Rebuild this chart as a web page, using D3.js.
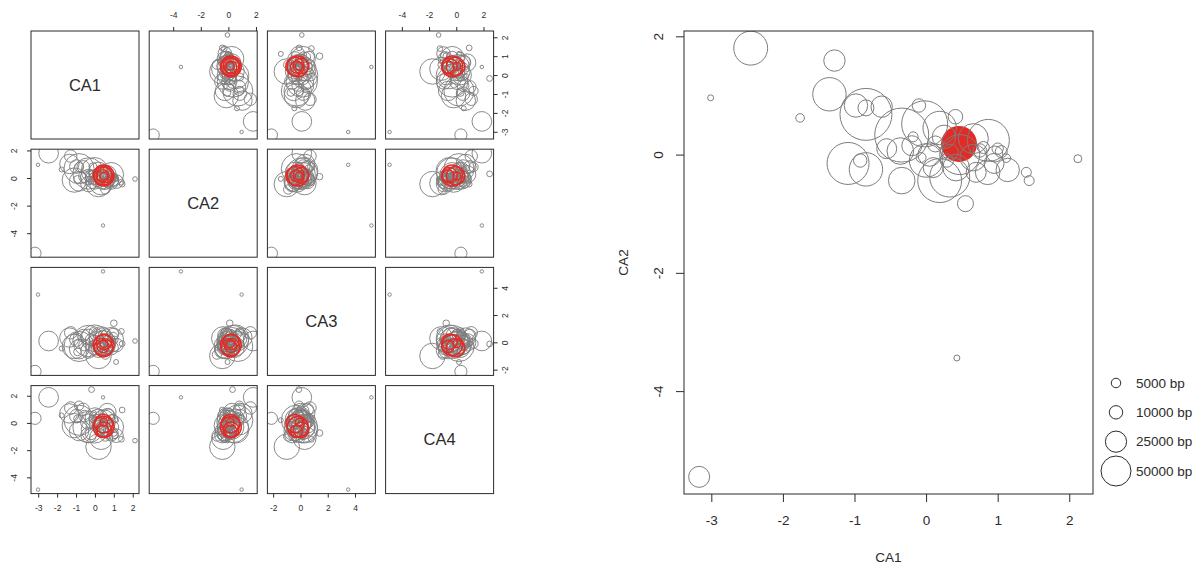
<!DOCTYPE html>
<html>
<head>
<meta charset="utf-8">
<script src="https://cdn.jsdelivr.net/npm/d3@7"></script>
<style>
  body { margin: 0; background: #fff; }
  svg { display: block; font-family: "Liberation Sans", Arial, Helvetica, sans-serif; }
</style>
</head>
<body>
<svg id="chart" width="1204" height="570"></svg>
<script>
// Correspondence-analysis coordinates per sample, with assembly size in bp
const dims = ["CA1", "CA2", "CA3", "CA4"];
const ca1 = [-3.17, -3.01, 0.43, 2.12, -0.18, 1.00, -2.45, 0.19, -1.28, -1.76,
             -1.35, -0.98, -0.84, -0.62, -0.84, -0.34, -0.10, -0.02, 0.41, 0.87,
             -1.09, -0.92, -0.84, -0.34, 0.55, 1.40, 1.44, 1.14, 1.12, 0.86,
             -0.36, 0.00, 0.05, 0.47, 0.66, 0.42, 0.70, 0.10, 0.29, -0.07,
             0.34, 0.13, 0.96, 0.75, 0.66, 0.19, 0.33, -0.55, 0.95, -0.20,
             0.25, 0.80, 1.05,
             0.46, 0.45, 0.48, 0.43, 0.47];
const ca2 = [-5.45, 0.96, -3.44, -0.07, 0.30, 0.10, 1.80, -0.44, 1.59, 0.62,
             1.02, 0.83, 0.79, 0.81, 0.68, 0.33, 0.83, 0.52, 0.64, 0.24,
             -0.15, -0.10, -0.25, -0.44, -0.83, -0.30, -0.44, -0.26, -0.06, -0.30,
             0.06, -0.10, 0.00, 0.00, -0.05, -0.22, -0.30, -0.22, -0.10, -0.05,
             0.04, 0.18, 0.01, 0.07, 0.27, 0.45, -0.38, 0.10, -0.15, 0.15,
             0.30, 0.12, 0.05,
             0.18, 0.16, 0.20, 0.17, 0.14];
const ca3 = [-2.13, 3.50, 5.20, 0.10, -0.12, 1.40, 0.10, -1.00, 0.70, -0.45,
             0.35, 0.20, -0.10, 0.50, -0.30, 0.10, 0.80, 0.30, 0.60, 0.20,
             -0.30, -0.70, -0.50, -0.60, -0.90, 0.80, -0.10, -0.20, -1.44, -0.40,
             0.40, -0.20, 0.30, 0.00, -0.30, 0.50, 0.10, -0.50, 0.20, -0.30,
             -0.60, 0.60, 0.40, -0.10, 0.00, -0.40, 0.30, -0.20, 0.60, 0.20,
             -0.20, -0.60, 0.20,
             -0.20, -0.40, 0.05, -0.30, -0.10];
const ca4 = [0.34, -4.90, 1.88, -1.30, 2.45, -0.74, 1.88, -1.75, 1.10, 0.55,
             0.70, 0.50, 1.27, 1.00, 0.20, -0.30, 0.30, -0.50, 0.40, -0.30,
             -0.20, 0.30, -0.60, -0.90, -1.00, -1.20, 0.95, -0.94, 0.20, -0.80,
             0.10, 0.40, -0.10, 0.10, 0.50, -0.40, 0.60, 0.20, -0.70, 0.70,
             -0.20, 0.00, 0.30, -0.50, 0.80, 0.30, -1.10, 0.50, -0.30, -0.80,
             -0.30, 0.00, -0.90,
             -0.30, -0.05, -0.50, -0.60, 0.05];
const bp  = [24500, 2000, 2000, 3500, 5500, 7200, 64000, 107000, 25400, 4100,
             62000, 30400, 14200, 25400, 150000, 162000, 10000, 117500, 11800, 98000,
             98000, 10000, 62000, 39300, 14200, 5500, 5500, 30400, 4100, 33600,
             39300, 62000, 30400, 88900, 39300, 39300, 22200, 22200, 10000, 5500,
             14200, 14200, 14200, 10000, 50000, 62000, 88900, 22200, 22200, 22200,
             30400, 8000, 8000,
             72000, 56000, 40000, 24000, 10000];
// 1 marks the focal samples (drawn in red)
const focal = [0, 0, 0, 0, 0, 0, 0, 0, 0, 0,
               0, 0, 0, 0, 0, 0, 0, 0, 0, 0,
               0, 0, 0, 0, 0, 0, 0, 0, 0, 0,
               0, 0, 0, 0, 0, 0, 0, 0, 0, 0,
               0, 0, 0, 0, 0, 0, 0, 0, 0, 0,
               0, 0, 0,
               1, 1, 1, 1, 1];

const ca1Ticks = [-3, -2, -1, 0, 1, 2];
const ca2Ticks = [-4, -2, 0, 2];
const ca3Ticks = [-2, 0, 2, 4];
const ca4Ticks = [-4, -2, 0, 2];
const legendBp = [5000, 10000, 25000, 50000];

const columns = [ca1, ca2, ca3, ca4];
const tickSets = [ca1Ticks, ca2Ticks, ca3Ticks, ca4Ticks];

const GRAY = "#7d7d7d";
const RED = "#e32b25";
const INK = "#2b2b2b";
const fmt = d => String(d);   // plain hyphen-minus, no decimals

const svg = d3.select("#chart");

// data range with 4% padding on each side
function padded(arr) {
  const [lo, hi] = d3.extent(arr);
  const p = (hi - lo) * 0.04;
  return [lo - p, hi + p];
}

const idx = d3.range(ca1.length);
const grayIdx = idx.filter(i => !focal[i]);
const redIdx = idx.filter(i => focal[i]);

// rotated tick labels for vertical axes (reading bottom to top)
function rotateLabels(g, dist, side) {
  g.selectAll(".tick text")
    .attr("x", null).attr("y", null)
    .attr("dy", "0.35em")
    .attr("text-anchor", "middle")
    .attr("transform", `translate(${side * dist},0) rotate(-90)`);
}

function styleAxis(g, fontSize) {
  g.select(".domain").remove();
  g.selectAll(".tick line").attr("stroke", INK);
  g.selectAll(".tick text").attr("fill", INK).style("font-size", fontSize + "px");
  g.attr("font-family", null);
}

// ---------- scatterplot matrix ----------
const M = { left: 31, top: 31, size: 108, step: 118.2 };
const rPair = d3.scaleSqrt().domain([0, 50000]).range([0, 8.7]);
const defs = svg.append("defs");

for (let r = 0; r < 4; r++) {
  for (let c = 0; c < 4; c++) {
    const x0 = M.left + c * M.step;
    const y0 = M.top + r * M.step;
    const panel = svg.append("g");

    if (r === c) {
      panel.append("text")
        .attr("x", x0 + M.size / 2).attr("y", y0 + M.size / 2)
        .attr("dy", "0.35em").attr("text-anchor", "middle")
        .attr("fill", INK).style("font-size", "16.5px")
        .text(dims[r]);
    } else {
      const xs = d3.scaleLinear().domain(padded(columns[c])).range([x0, x0 + M.size]);
      const ys = d3.scaleLinear().domain(padded(columns[r])).range([y0 + M.size, y0]);
      const clipId = `clip-${r}-${c}`;
      defs.append("clipPath").attr("id", clipId)
        .append("rect").attr("x", x0).attr("y", y0).attr("width", M.size).attr("height", M.size);
      const pts = panel.append("g").attr("clip-path", `url(#${clipId})`);
      pts.append("g").selectAll("circle").data(grayIdx).join("circle")
        .attr("cx", i => xs(columns[c][i]))
        .attr("cy", i => ys(columns[r][i]))
        .attr("r", i => rPair(bp[i]))
        .attr("fill", "none")
        .attr("stroke", GRAY)
        .attr("stroke-width", 0.9);
      pts.append("g").selectAll("circle").data(redIdx).join("circle")
        .attr("cx", i => xs(columns[c][i]))
        .attr("cy", i => ys(columns[r][i]))
        .attr("r", i => rPair(bp[i]))
        .attr("fill", "none")
        .attr("stroke", RED)
        .attr("stroke-width", 1.5);

      // outer axes, alternating sides as in a pairs plot
      if (r === 0 && c % 2 === 1) {
        const g = panel.append("g").attr("transform", `translate(0,${y0})`)
          .call(d3.axisTop(xs).tickValues(tickSets[c]).tickFormat(fmt).tickSize(4).tickPadding(9));
        styleAxis(g, 8.5);
      }
      if (r === 3 && c % 2 === 0) {
        const g = panel.append("g").attr("transform", `translate(0,${y0 + M.size})`)
          .call(d3.axisBottom(xs).tickValues(tickSets[c]).tickFormat(fmt).tickSize(4).tickPadding(7.5));
        styleAxis(g, 8.5);
      }
      if (c === 0 && r % 2 === 1) {
        const g = panel.append("g").attr("transform", `translate(${x0},0)`)
          .call(d3.axisLeft(ys).tickValues(tickSets[r]).tickFormat(fmt).tickSize(4));
        styleAxis(g, 8.5);
        rotateLabels(g, 16.5, -1);
      }
      if (c === 3 && r % 2 === 0) {
        const g = panel.append("g").attr("transform", `translate(${x0 + M.size},0)`)
          .call(d3.axisRight(ys).tickValues(tickSets[r]).tickFormat(fmt).tickSize(4));
        styleAxis(g, 8.5);
        rotateLabels(g, 11, 1);
      }
    }
    panel.append("rect")
      .attr("x", x0).attr("y", y0).attr("width", M.size).attr("height", M.size)
      .attr("fill", "none").attr("stroke", INK).attr("stroke-width", 1);
  }
}

// ---------- CA1 vs CA2 bubble plot ----------
const B = { left: 684, right: 1093, top: 31, bottom: 494 };
const x = d3.scaleLinear().domain(padded(ca1)).range([B.left, B.right]);
const y = d3.scaleLinear().domain(padded(ca2)).range([B.bottom, B.top]);
const rBig = d3.scaleSqrt().domain([0, 50000]).range([0, 15]);

defs.append("clipPath").attr("id", "clip-main")
  .append("rect").attr("x", B.left).attr("y", B.top)
  .attr("width", B.right - B.left).attr("height", B.bottom - B.top);

const main = svg.append("g").attr("clip-path", "url(#clip-main)");
main.append("g").selectAll("circle").data(redIdx).join("circle")
  .attr("cx", i => x(ca1[i]))
  .attr("cy", i => y(ca2[i]))
  .attr("r", i => rBig(bp[i]))
  .attr("fill", RED);
main.append("g").selectAll("circle").data(grayIdx).join("circle")
  .attr("cx", i => x(ca1[i]))
  .attr("cy", i => y(ca2[i]))
  .attr("r", i => rBig(bp[i]))
  .attr("fill", "none")
  .attr("stroke", GRAY)
  .attr("stroke-width", 1);

const gx = svg.append("g").attr("transform", `translate(0,${B.bottom})`)
  .call(d3.axisBottom(x).tickValues(ca1Ticks).tickFormat(fmt).tickSize(8).tickPadding(13));
styleAxis(gx, 13.5);

const gy = svg.append("g").attr("transform", `translate(${B.left},0)`)
  .call(d3.axisLeft(y).tickValues(ca2Ticks).tickFormat(fmt).tickSize(8));
styleAxis(gy, 13.5);
rotateLabels(gy, 26, -1);

svg.append("rect")
  .attr("x", B.left).attr("y", B.top)
  .attr("width", B.right - B.left).attr("height", B.bottom - B.top)
  .attr("fill", "none").attr("stroke", INK).attr("stroke-width", 1);

svg.append("text")
  .attr("x", (B.left + B.right) / 2).attr("y", 557)
  .attr("dy", "0.35em").attr("text-anchor", "middle")
  .attr("fill", INK).style("font-size", "13.5px").text("CA1");

svg.append("text")
  .attr("transform", `translate(623,${(B.top + B.bottom) / 2}) rotate(-90)`)
  .attr("dy", "0.35em").attr("text-anchor", "middle")
  .attr("fill", INK).style("font-size", "13.5px").text("CA2");

// size legend
const legendY = d3.scalePoint().domain(legendBp).range([383, 471]);
const leg = svg.append("g");
leg.selectAll("circle").data(legendBp).join("circle")
  .attr("cx", 1116).attr("cy", d => legendY(d))
  .attr("r", d => rBig(d))
  .attr("fill", "none").attr("stroke", INK).attr("stroke-width", 1);
leg.selectAll("text").data(legendBp).join("text")
  .attr("x", 1136).attr("y", d => legendY(d))
  .attr("dy", "0.35em").attr("fill", INK).style("font-size", "13.5px")
  .text(d => `${d} bp`);
</script>
</body>
</html>
